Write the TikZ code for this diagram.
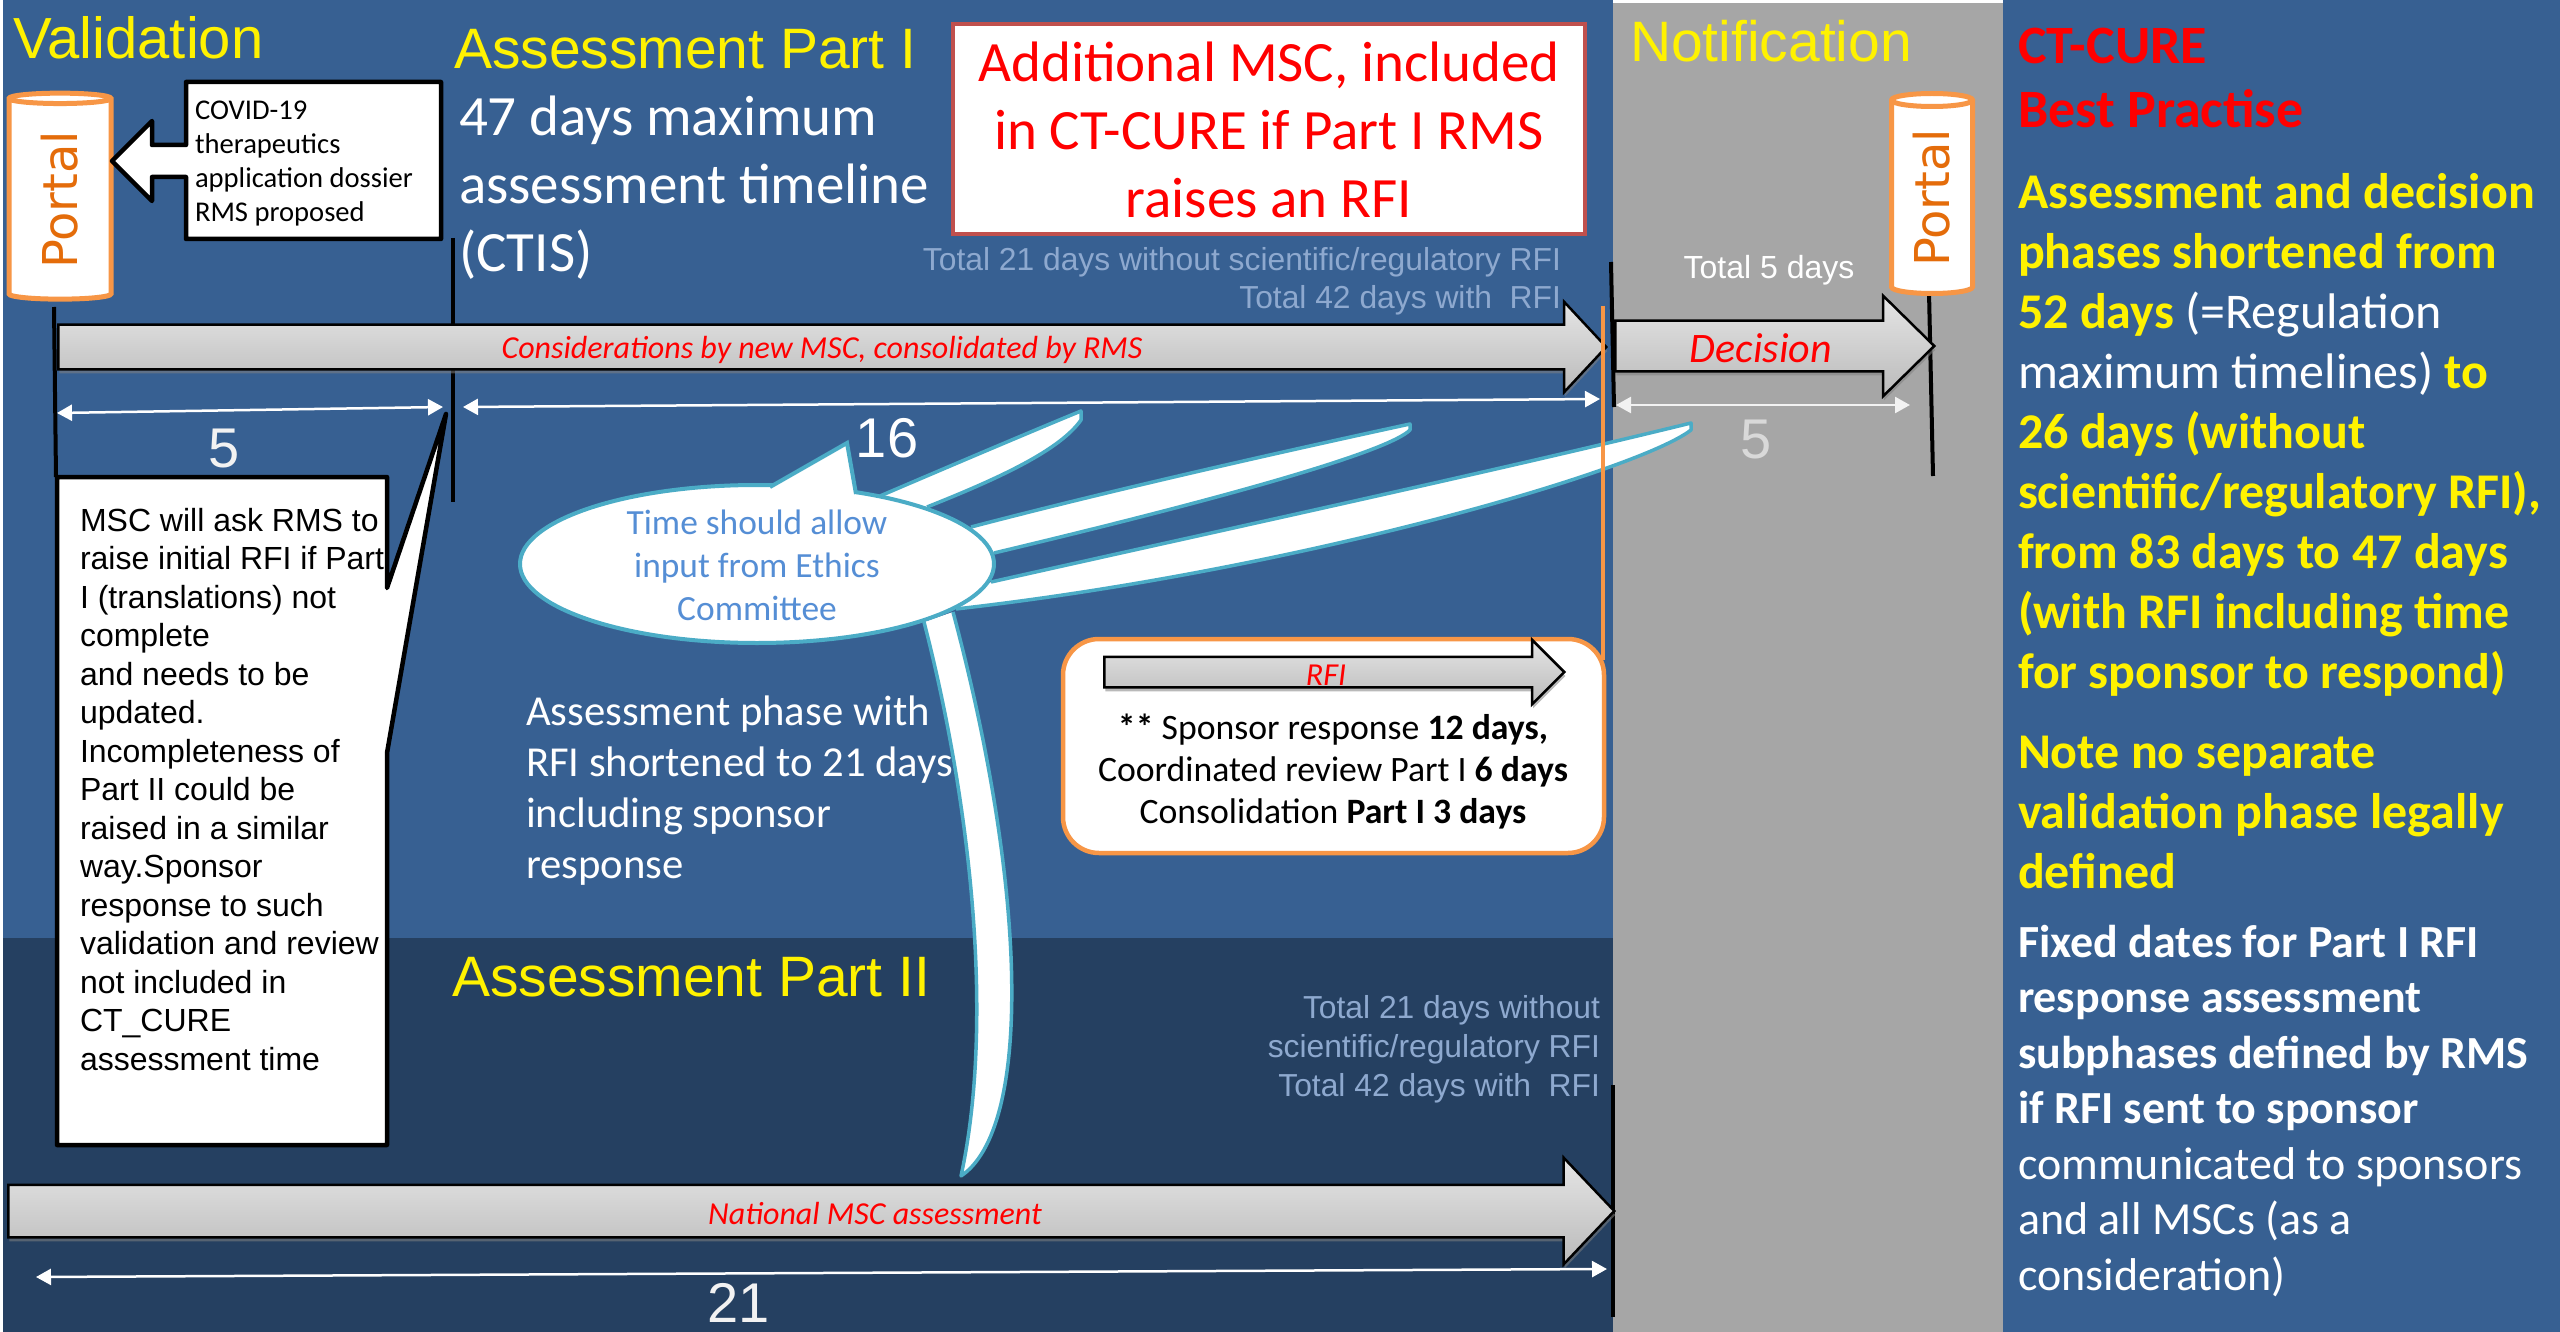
\documentclass[tikz,border=0pt]{standalone}
\usepackage{fontspec}
\setmainfont{Carlito}
\newfontfamily\arial{Liberation Sans}
\newfontfamily\dejavu{DejaVu Sans}
\usepackage{tikz}
\usetikzlibrary{arrows.meta,shapes.arrows,shapes.geometric,shadows}
\definecolor{panelblue}{HTML}{376092}
\definecolor{darkblue}{HTML}{254061}
\definecolor{midgrey}{HTML}{A6A6A6}
\definecolor{tanorange}{HTML}{F79646}
\definecolor{portalorange}{HTML}{E46C0A}
\definecolor{bubbleteal}{HTML}{4BACC6}
\definecolor{bubbletext}{HTML}{558ED5}
\definecolor{boxred}{HTML}{C0504D}
\definecolor{paleblue}{HTML}{8EA9CF}
\newcommand{\sz}[2]{\fontsize{#1}{#2}\selectfont}
\newcommand{\wht}[1]{\textcolor{white}{\mdseries #1}}

\begin{document}
\begin{tikzpicture}[x=1pt,y=-1pt,>={Triangle[length=15pt,width=16pt]}]
        \tikzstyle{txt} = [inner sep=0pt, outer sep=0pt]
        \tikzstyle{title} = [txt, anchor=base west, text=yellow, font=\arial\sz{57}{64}]
        \tikzstyle{tick} = [black, line width=4pt]
        \tikzstyle{span} = [<->, line width=2.5pt, white]
        \tikzstyle{portal} = [cylinder, rotate=90, draw=tanorange, fill=white, line width=5pt, inner sep=0pt, text=portalorange, font=\dejavu\sz{48}{50}]
        \tikzstyle{blockarrow} = [single arrow, anchor=tail, draw=black, line width=2.5pt, top color=black!10, bottom color=black!27, inner xsep=0pt, drop shadow={shadow xshift=1pt, shadow yshift=-4pt, opacity=.55}]
        \tikzstyle{arrowlabel} = [txt, text=red, font=\itshape\sz{32}{36}]
        \tikzstyle{paletext} = [txt, anchor=base east, align=right, text=paleblue, font=\arial\sz{31.8}{39}]
        \tikzstyle{spike} = [fill=white, draw=bubbleteal, line width=3.5pt, line join=round]
        \tikzstyle{blackbox} = [fill=white, draw=black, line width=4.5pt, line join=round]
        \tikzstyle{side} = [txt, anchor=base west, align=left, text=yellow, font=\bfseries\sz{50}{60}]
        \tikzstyle{daynum} = [txt, anchor=base, font=\arial\sz{56}{64}]

        % Background
        \useasboundingbox (0,0) rectangle (2560,1332);
        \fill[white] (0,0) rectangle (2560,1332);
        \fill[panelblue] (3,0) rectangle (1613,938);
        \fill[darkblue] (3,938) rectangle (1613,1332);
        \fill[midgrey] (1613,3) rectangle (2003,1332);
        \fill[panelblue] (2003,0) rectangle (2560,1332);

        % Ticks
        \coordinate (t0a) at (54,307);
        \coordinate (t0b) at (56,477);
        \coordinate (t1a) at (453,238);
        \coordinate (t1b) at (453,502);
        \coordinate (t2a) at (1611,262);
        \coordinate (t2b) at (1614,407);
        \coordinate (t3a) at (1929,292);
        \coordinate (t3b) at (1933,476);
        \coordinate (t4a) at (1613,1085);
        \coordinate (t4b) at (1613,1317);
        \path[tick] (t0a) edge (t0b);
        \path[tick] (t1a) edge (t1b);
        \path[tick] (t2a) edge (t2b);
        \path[tick] (t3a) edge (t3b);
        \path[tick] (t4a) edge (t4b);

        % Block arrows
        \node[blockarrow, minimum height=1548pt, inner ysep=21pt, single arrow head extend=23pt, single arrow tip angle=94] (consider) at (57,347) {};
        \node[blockarrow, minimum height=319pt, inner ysep=24pt, single arrow head extend=25pt, single arrow tip angle=89] (decide) at (1614,346) {};
        \node[blockarrow, minimum height=1606pt, inner ysep=25pt, single arrow head extend=27pt, single arrow tip angle=93] (national) at (7,1211) {};
        \node[arrowlabel] (considertext) at (822,350) {Considerations by new MSC, consolidated by RMS};
        \node[arrowlabel, font=\itshape\sz{42}{48}] (decidetext) at (1761,348) {Decision};
        \node[arrowlabel] (nationaltext) at (875,1213) {National MSC assessment};

        % Span arrows
        \coordinate (a0) at (57,413);
        \coordinate (a1) at (443,407);
        \coordinate (b0) at (463,407);
        \coordinate (b1) at (1600,399);
        \coordinate (c0) at (1616,405);
        \coordinate (c1) at (1910,405);
        \coordinate (d0) at (36,1277);
        \coordinate (d1) at (1607,1269);
        \path[span] (a0) edge (a1);
        \path[span] (b0) edge (b1);
        \path[span, white!95!black] (c0) edge (c1);
        \path[span] (d0) edge (d1);

        % Portals
        \node[portal, aspect=0.28, minimum width=102pt, minimum height=206pt] (portalL) at (60,200) {Portal};
        \node[portal, aspect=0.35, minimum width=81pt, minimum height=200pt] (portalR) at (1932,198) {Portal};

        % Dossier callout
        \draw[blackbox] (186,82) -- (441,82) -- (441,239) -- (186,239) -- (186,177) -- (152,177) -- (152,201) -- (112,161) -- (152,121) -- (152,145) -- (186,145) -- cycle;
        \node[txt, anchor=base west, align=left, font=\sz{28.6}{34}] (dossier) at (195,222) {COVID-19\\therapeutics\\application dossier\\RMS proposed};

        % MSC callout
        \draw[blackbox] (57,477) -- (387,477) -- (387,588) -- (446,414) -- (387,753) -- (387,1145) -- (57,1145) -- cycle;
        \node[txt, anchor=base west, align=left, font=\arial\sz{32}{38.5}] (msctext) at (80,1070) {MSC will ask RMS to\\raise initial RFI if Part\\I (translations) not\\complete\\and needs to be\\updated.\\Incompleteness of\\Part II could be\\raised in a similar\\way.Sponsor\\response to such\\validation and review\\not included in\\CT\_CURE\\assessment time};

        % Titles
        \node[title, font=\arial\sz{58}{64}] (validation) at (13,58.5) {Validation};
        \node[title] (partone) at (454,69) {Assessment Part I};
        \node[title] (parttwo) at (452,996) {Assessment Part II};
        \node[title] (notification) at (1630,62) {Notification};
        \node[txt, anchor=base west, align=left, text=white, font=\sz{57}{68}] (timeline) at (459,272) {47 days maximum\\assessment timeline\\(CTIS)};
        \node[txt, anchor=base west, align=left, text=white, font=\sz{42.7}{51}] (phase) at (526,878) {Assessment phase with\\RFI shortened to 21 days\\including sponsor\\response};

        % Red box
        \node[draw=boxred, fill=white, line width=4.5pt, minimum width=632pt, minimum height=210pt, inner sep=0pt] (msc) at (1269,129) {};
        \node[txt, anchor=base, align=center, text=red, font=\sz{57}{68}] (msctitle) at (1269,218) {Additional MSC, included\\in CT-CURE if Part I RMS\\raises an RFI};

        % Totals
        \node[paletext] (totalone) at (1561,309) {Total 21 days without scientific/regulatory RFI\\Total 42 days with\ \ RFI};
        \node[paletext] (totaltwo) at (1600,1096) {Total 21 days without\\scientific/regulatory RFI\\Total 42 days with\ \ RFI};
        \node[txt, anchor=base, text=white, font=\arial\sz{32}{39}] (totalfive) at (1769,279) {Total 5 days};

        % Day counts
        \node[daynum, text=white!95!black] (five) at (224,467) {5};
        \node[daynum, text=white] (sixteen) at (887,457) {16};
        \node[daynum, text=white!85!black] (fiveb) at (1756,458) {5};
        \node[daynum, text=white!95!black] (twentyone) at (739,1322) {21};

        % Speech bubble
        \draw[spike] (880,496) .. controls (950,466) and (1030,432) .. (1081,411) -- (1081,420) .. controls (1060,450) and (1000,478) .. (927,507);
        \draw[spike] (971,527) .. controls (1120,488) and (1290,450) .. (1410,424) -- (1410,430) .. controls (1390,450) and (1250,492) .. (994,553);
        \draw[spike] (991,582) .. controls (1200,535) and (1500,470) .. (1691,423) -- (1691,430) .. controls (1640,470) and (1300,570) .. (956,609);
        \draw[spike] (924,622) .. controls (970,800) and (995,1020) .. (961,1176) .. controls (1030,1130) and (1030,900) .. (953,612);
        \node[ellipse, draw=bubbleteal, fill=white, line width=4pt, minimum width=474pt, minimum height=158pt, inner sep=0pt] (bubble) at (757,564) {};
        \fill[white] (770,489) -- (847,443) -- (856,496) -- (810,520) -- cycle;
        \coordinate (tail0) at (770,487);
        \coordinate (tail1) at (847,443);
        \coordinate (tail2) at (856,494);
        \draw[bubbleteal, line width=4pt, line join=miter] (tail0) -- (tail1) -- (tail2);
        \node[txt, anchor=base, align=center, text=bubbletext, font=\sz{35.4}{43}] (bubbletxt) at (757,620) {Time should allow\\input from Ethics\\Committee};

        % RFI box
        \coordinate (rfitop) at (1603,306);
        \node[draw=tanorange, fill=white, line width=4.5pt, rounded corners=36pt, minimum width=541pt, minimum height=214pt, inner sep=0pt] (rfibox) at (1333.5,746) {};
        \path[draw=tanorange, line width=3.5pt] (rfitop) -- (1603,660);
        \node[blockarrow, minimum height=460pt, inner ysep=14pt, single arrow head extend=17pt, single arrow tip angle=90] (rfi) at (1103,672) {};
        \node[arrowlabel] (rfitext) at (1326,675) {RFI};
        \node[txt, anchor=base, align=center, font=\sz{35.7}{42}] (rfidetail) at (1333,823) {\textbf{**} Sponsor response \textbf{12 days,}\\Coordinated review Part I \textbf{6 days}\\Consolidation \textbf{Part I 3 days}};

        % Side panel
        \node[side, text=red, font=\bfseries\sz{54}{64}] (best) at (2018,128) {CT-CURE\\Best Practise};
        \node[side] (shorter) at (2018,688) {Assessment and decision\\phases shortened from\\52 days \wht{(=Regulation}\\\wht{maximum timelines)} to\\26 days (without\\scientific/regulatory RFI),\\from 83 days to 47 days\\(with RFI including time\\for sponsor to respond)};
        \node[side] (note) at (2018,888) {Note no separate\\validation phase legally\\defined};
        \node[side, text=white, font=\sz{46}{55.5}] (fixed) at (2018,1290) {\textbf{Fixed dates for Part I RFI}\\\textbf{response assessment}\\\textbf{subphases defined by RMS}\\\textbf{if RFI sent to sponsor}\\communicated to sponsors\\and all MSCs (as a\\consideration)};
    \end{tikzpicture}
\end{document}
